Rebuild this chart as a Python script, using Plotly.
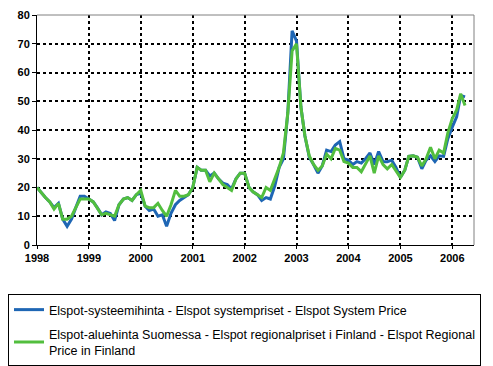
import pandas as pd
import plotly.graph_objects as go

months = pd.date_range("1998-01-01", "2006-04-01", freq="MS")

system_price = [
    20, 18, 16.5, 15, 13, 14.5, 9, 6.5, 9, 13, 17, 17,
    16, 15, 13, 10.5, 11.5, 11, 8.5, 14, 16, 16.5, 15.5, 17.5,
    18, 13.5, 12, 12.5, 10, 10.5, 6.5, 11, 14, 15.5, 16.5, 17.5,
    20, 27, 26, 26, 24, 25, 23, 21.5, 21, 19.5, 23, 25,
    25, 20, 18.5, 17.5, 15.5, 16.5, 16, 20.5, 27, 30, 46, 74.5,
    71, 48, 38, 30.5, 28, 25, 27.5, 33, 32.5, 34.8, 36, 30,
    29.5, 28, 29, 28.5, 30, 32, 28, 32.5, 29, 29, 29.5, 27,
    23.5, 26, 30.8, 31, 30.5, 26.5, 29.5, 31, 29, 31, 30.8, 37,
    41, 44.6, 52, 51.5,
]

regional_price_fi = [
    20, 18, 16.5, 15, 12.5, 14.5, 9, 9, 10, 13, 16, 16,
    16, 15, 13, 10.5, 11, 10.5, 10, 14, 16, 16.5, 15.5, 17.5,
    19, 13.5, 13, 13, 14.5, 12, 10, 14, 19, 17, 17, 17.5,
    20, 27, 26, 26, 22, 25, 23, 21, 20, 19, 23, 25,
    25, 20, 18.5, 17.5, 16.5, 20, 19, 23, 27, 32, 46, 67.5,
    70, 48, 38, 31, 28, 26, 27.5, 31.6, 30, 33.6, 33, 29,
    28.5, 27, 27, 25.5, 28, 31, 25, 31, 28, 26.5, 28, 26,
    23.5, 26, 30.8, 31, 30.5, 27.5, 30, 34, 30, 33, 32, 39,
    44, 47, 52.6, 48.5,
]

name_system = "Elspot-systeemihinta - Elspot systempriset - Elspot System Price"
name_regional = ("Elspot-aluehinta Suomessa - Elspot regionalpriset i Finland - Elspot Regional"
                 "<br>Price in Finland")

fig = go.Figure()
fig.add_trace(go.Scatter(x=months, y=system_price, mode="lines", name=name_system,
                         legendgroup="a", line=dict(color="#1E66B4", width=3)))
fig.add_trace(go.Scatter(x=months, y=regional_price_fi, mode="lines", name=name_regional,
                         legendgroup="b", line=dict(color="#52BE3E", width=3)))

border_shapes = [
    dict(type="line", xref="paper", yref="paper", x0=0, x1=1, y0=1, y1=1,
         line=dict(color="#808080", width=1)),
    dict(type="line", xref="paper", yref="paper", x0=1, x1=1, y0=0, y1=1,
         line=dict(color="#808080", width=1)),
]

# page body has an 8px margin, so the figure is sized to fill the rest of the window
W, H = 485, 358
fig.update_layout(
    width=W, height=H,
    margin=dict(l=29, r=19, t=7, b=121, autoexpand=False),
    paper_bgcolor="white", plot_bgcolor="white",
    font=dict(family="Liberation Sans, Arial", color="black", size=12),
    showlegend=True,
    legend=dict(
        xref="container", yref="container",
        x=0, y=1 - 286 / H, xanchor="left", yanchor="top",
        bordercolor="black", borderwidth=1, bgcolor="white",
        font=dict(size=12.5, family="Liberation Sans, Arial"),
        tracegroupgap=5, itemwidth=30,
    ),
    xaxis=dict(
        type="date",
        range=["1998-01-01", "2006-06-03"],
        tick0="1998-01-01", dtick="M12", tickformat="%Y",
        showgrid=True, gridcolor="#000000", griddash="3px,3px", gridwidth=1.5,
        showline=True, linecolor="black", linewidth=1,
        ticks="outside", ticklen=3, tickcolor="black",
        tickfont=dict(size=11, weight="bold"),
        zeroline=False,
    ),
    yaxis=dict(
        range=[0, 80], dtick=10,
        showgrid=True, gridcolor="#000000", griddash="3px,3px", gridwidth=1.5,
        showline=True, linecolor="black", linewidth=1,
        ticks="outside", ticklen=4, tickcolor="black",
        tickfont=dict(size=11, weight="bold"),
        zeroline=False,
    ),
    shapes=border_shapes,
)

fig.write_html("out.html")
